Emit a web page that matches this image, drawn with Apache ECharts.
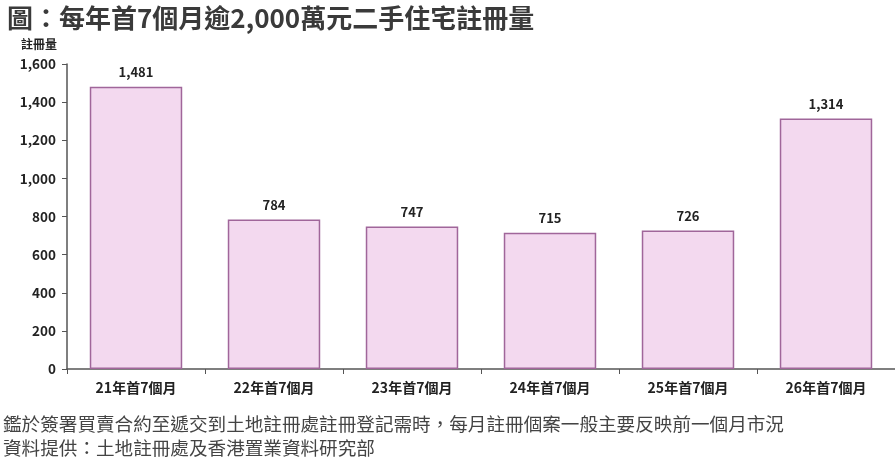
<!DOCTYPE html>
<html>
<head>
<meta charset="utf-8">
<script src="https://cdn.jsdelivr.net/npm/echarts@6/dist/echarts.min.js"></script>
<style>
  html, body { margin: 0; padding: 0; background: #fff; }
  #chart { width: 895px; height: 470px; }
</style>
</head>
<body>
<div id="chart"></div>
<script>
const categories = ['21年首7個月', '22年首7個月', '23年首7個月', '24年首7個月', '25年首7個月', '26年首7個月'];
const registrations = [1481, 784, 747, 715, 726, 1314];
const titleText = '圖：每年首7個月逾2,000萬元二手住宅註冊量';
const noteLines = [
  '鑑於簽署買賣合約至遞交到土地註冊處註冊登記需時，每月註冊個案一般主要反映前一個月市況',
  '資料提供：土地註冊處及香港置業資料研究部'
];

const font = '"Noto Sans CJK TC", "Noto Sans", sans-serif';
const chart = echarts.init(document.getElementById('chart'));

const option = {
  backgroundColor: '#fff',
  animation: false,
  textStyle: { fontFamily: font },
  title: {
    text: titleText,
    left: 2,
    top: 0,
    textStyle: { fontFamily: font, fontSize: 26, fontWeight: 'bold', color: '#3a3a3a' }
  },
  graphic: noteLines.map((line, i) => ({
    type: 'text',
    left: 3,
    top: 415 + i * 24,
    style: { text: line, font: '18.6px ' + font, fill: '#444' }
  })),
  grid: { left: 67, right: 0, top: 64, bottom: 101 },
  xAxis: {
    type: 'category',
    data: categories,
    axisLine: { lineStyle: { color: '#555', width: 1.5 } },
    axisTick: { show: true, length: 5, lineStyle: { color: '#555' } },
    axisLabel: { color: '#222', fontSize: 14, fontWeight: 'bold', margin: 12 }
  },
  yAxis: {
    type: 'value',
    min: 0,
    max: 1600,
    interval: 200,
    name: '註冊量',
    nameLocation: 'end',
    nameGap: 14,
    nameTextStyle: { color: '#222', fontSize: 12, fontWeight: 'bold', align: 'right', padding: [0, 10, 0, 0] },
    axisLine: { show: true, lineStyle: { color: '#555', width: 1.5 } },
    axisTick: { show: true, length: 5, lineStyle: { color: '#555' } },
    splitLine: { show: false },
    axisLabel: {
      color: '#222',
      fontSize: 13.5,
      fontWeight: 'bold',
      margin: 11,
      formatter: v => v.toLocaleString('en-US')
    }
  },
  series: [{
    type: 'bar',
    data: registrations,
    barWidth: '67%',
    itemStyle: { color: '#f3d9ef', borderColor: '#a0669a', borderWidth: 1.5 },
    label: {
      show: true,
      position: 'top',
      distance: 8,
      color: '#222',
      fontSize: 13,
      fontWeight: 'bold',
      formatter: p => p.value.toLocaleString('en-US')
    }
  }]
};

chart.setOption(option);
</script>
</body>
</html>
